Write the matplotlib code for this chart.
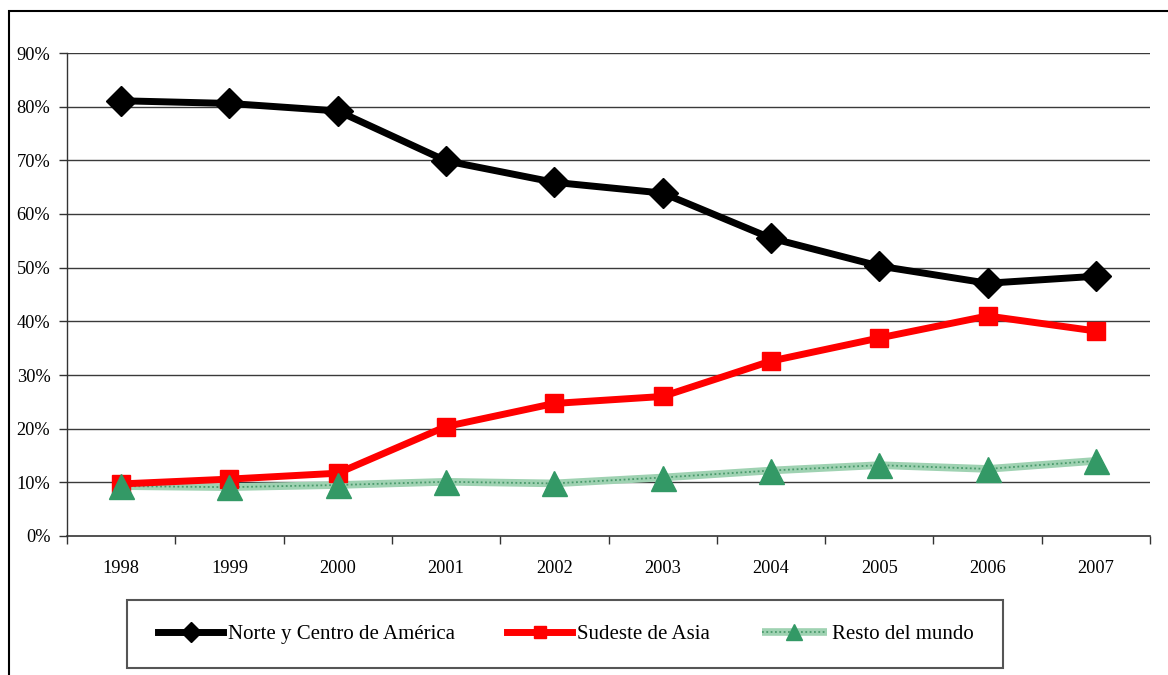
import matplotlib.pyplot as plt
from matplotlib.legend_handler import HandlerTuple
from matplotlib.patches import Rectangle
from matplotlib.ticker import FixedLocator, FuncFormatter

plt.rcParams['font.family'] = ['Liberation Serif', 'DejaVu Serif']

years = ['1998', '1999', '2000', '2001', '2002', '2003', '2004', '2005', '2006', '2007']
norte_centro = [81.1, 80.6, 79.2, 69.9, 65.9, 63.9, 55.5, 50.3, 47.1, 48.4]
sudeste_asia = [9.7, 10.6, 11.7, 20.4, 24.7, 26.0, 32.6, 36.9, 41.0, 38.2]
resto_mundo = [9.3, 9.1, 9.5, 10.1, 9.8, 10.9, 12.2, 13.2, 12.5, 14.0]

y_ticks = [0, 10, 20, 30, 40, 50, 60, 70, 80, 90]

x = list(range(len(years)))

fig = plt.figure(figsize=(11.68, 6.75), dpi=100)
ax = fig.add_axes([67 / 1168, 139 / 675, 1083 / 1168, 483 / 675])

# gridlines first so the series sit on top
for v in y_ticks[1:]:
    ax.axhline(v, color='#3a3a3a', lw=1.0, zorder=1)

l_norte, = ax.plot(x, norte_centro, color='black', lw=5, marker='D', ms=15,
                   mfc='black', mec='black', zorder=5)
l_asia, = ax.plot(x, sudeste_asia, color='#ff0000', lw=5, marker='s', ms=12.5,
                  mfc='#ff0000', mec='#ff0000', zorder=4)

# hatched-looking light green line, markers drawn separately on top
l_resto_base, = ax.plot(x, resto_mundo, color='#9fd2b2', lw=5.5, zorder=3,
                        solid_capstyle='butt')
l_resto_dots, = ax.plot(x, resto_mundo, color='#4a9a6c', lw=1.3,
                        ls=(0, (1, 1.4)), zorder=3)
l_resto_mk, = ax.plot(x, resto_mundo, ls='none', marker='^', ms=18,
                      mfc='#339966', mec='#339966', zorder=6)

ax.set_xlim(-0.5, len(years) - 0.5)
ax.set_ylim(0, 90)

ax.spines['top'].set_visible(False)
ax.spines['right'].set_visible(False)
ax.spines['left'].set_color('#333333')
ax.spines['bottom'].set_color('#333333')
ax.spines['left'].set_linewidth(1.0)
ax.spines['bottom'].set_linewidth(1.2)

ax.set_yticks(y_ticks)
ax.yaxis.set_major_formatter(FuncFormatter(lambda v, p: f'{v:.0f}%'))
ax.tick_params(axis='y', length=6, width=1, color='#333333', pad=6,
               labelsize=13.2)

ax.xaxis.set_major_locator(FixedLocator([i - 0.5 for i in range(len(years) + 1)]))
ax.xaxis.set_minor_locator(FixedLocator(x))
ax.set_xticklabels([], minor=False)
ax.set_xticklabels(years, minor=True)
ax.tick_params(axis='x', which='major', length=6, width=1, color='#333333')
ax.tick_params(axis='x', which='minor', length=0, pad=17, labelsize=13.2)

# outer chart frame
fig.patches.append(Rectangle((9 / 1168, -0.05), 1.2, 664 / 675 + 0.05,
                             transform=fig.transFigure, fill=False,
                             edgecolor='black', lw=1.5, clip_on=False))

# legend box
fig.patches.append(Rectangle((127 / 1168, 7 / 675), 876 / 1168, 68 / 675,
                             transform=fig.transFigure, fill=False,
                             edgecolor='#555555', lw=1.5))

fig.legend([l_norte, l_asia, (l_resto_base, l_resto_dots, l_resto_mk)],
           ['Norte y Centro de América', 'Sudeste de Asia', 'Resto del mundo'],
           handler_map={tuple: HandlerTuple(ndivide=1)},
           loc='center', bbox_to_anchor=(566 / 1168, 41 / 675),
           ncol=3, frameon=False, fontsize=15, handlelength=3.1,
           handletextpad=0.25, columnspacing=2.5, markerscale=0.65,
           numpoints=1)

fig.savefig('out.png', dpi=100)
